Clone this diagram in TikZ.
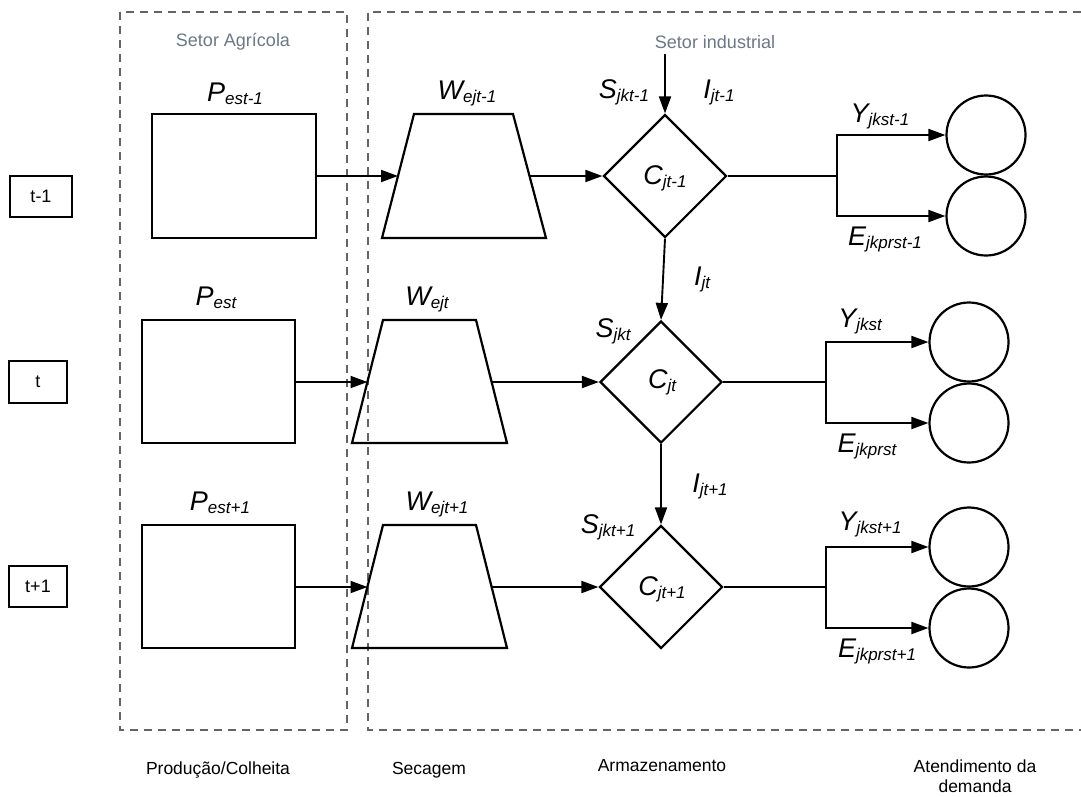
\documentclass[tikz,border=0pt]{standalone}
\usepackage{fontspec}
\setmainfont{Liberation Sans}
\usetikzlibrary{shapes.geometric,arrows.meta}

\definecolor{sectorgray}{RGB}{108,120,135}
\definecolor{dashgray}{RGB}{100,100,100}

% italic variable with subscript, e.g. \lab{P}{est-1}
\newcommand\lab[2]{{\fontsize{27}{27}\selectfont\itshape #1}\raisebox{-3.5pt}{\fontsize{17}{17}\selectfont\itshape #2}}

\tikzset{
  sector/.style={draw=dashgray, line width=1.5pt, dash pattern=on 8pt off 6pt},
  sectortitle/.style={text=sectorgray, font=\fontsize{18}{18}\selectfont},
  stagetitle/.style={font=\fontsize{17.5}{20}\selectfont, align=center},
  periodbox/.style={draw, line width=1.8pt, inner sep=0pt, font=\fontsize{18}{18}\selectfont},
  prodbox/.style={draw, line width=2.2pt, inner sep=0pt},
  dryer/.style={draw, line width=2.2pt, line join=miter},
  silo/.style={diamond, draw, line width=2.2pt, inner sep=0pt, minimum size=123pt},
  demand/.style={circle, draw, line width=2.2pt, inner sep=0pt, minimum size=79pt},
  varlabel/.style={anchor=base, inner sep=0pt},
  flow/.style={line width=1.9pt, -{Triangle[length=17pt,width=12pt]}},
  plainflow/.style={line width=1.9pt},
}

\begin{document}
\begin{tikzpicture}[x=1pt,y=-1pt]
\useasboundingbox[fill=white] (0,0) rectangle (1081,796);

% sectors
\draw[sector] (120,12) rectangle (347,730);
\draw[sector] (1081,12) -- (368,12) -- (368,730) -- (1081,730);
\node[sectortitle] (tagr) at (233,42) {Setor Agrícola};
\node[sectortitle] (tind) at (715,42) {Setor industrial};

% periods
\node[periodbox, minimum width=62pt, minimum height=41pt] (t1) at (41,196.5) {t-1};
\node[periodbox, minimum width=58pt, minimum height=42pt] (t2) at (38,382) {t};
\node[periodbox, minimum width=58pt, minimum height=41pt] (t3) at (38,586.5) {t+1};

% production / harvest
\node[prodbox, minimum width=164pt, minimum height=124pt] (p1) at (234,176) {};
\node[prodbox, minimum width=153pt, minimum height=123pt] (p2) at (218.5,381.5) {};
\node[prodbox, minimum width=153pt, minimum height=123pt] (p3) at (218.5,586.5) {};

% drying
\draw[dryer] (382,238) -- (414,114) -- (513,114) -- (546,238) -- cycle;
\draw[dryer] (352,443) -- (383,320) -- (476,320) -- (507,443) -- cycle;
\draw[dryer] (352,648) -- (383,525) -- (476,525) -- (507,648) -- cycle;
\coordinate (w1in) at (398,176);   \coordinate (w1out) at (530,176);
\coordinate (w2in) at (367.5,382); \coordinate (w2out) at (491.5,382);
\coordinate (w3in) at (367.5,587); \coordinate (w3out) at (491.5,587);

% storage
\node[silo] (c1) at (665,176) {};
\node[silo, minimum size=122pt] (c2) at (661,382) {};
\node[silo] (c3) at (661,587) {};
\coordinate (cin) at (665,54);

% demand
\node[demand] (y1) at (986,135) {};
\node[demand] (e1) at (986,216) {};
\node[demand] (y2) at (969,342) {};
\node[demand] (e2) at (969,423) {};
\node[demand] (y3) at (969,547) {};
\node[demand] (e3) at (969,628) {};
\coordinate (b1) at (837,176);
\coordinate (b2) at (826,382);
\coordinate (b3) at (826,587);

% flows
\draw[flow] (p1.east |- w1in) -- (w1in);
\draw[flow] (p2.east |- w2in) -- (w2in);
\draw[flow] (p3.east |- w3in) -- (w3in);
\draw[flow] (w1out) -- (c1.west);
\draw[flow] (w2out) -- (c2.west);
\draw[flow] (w3out) -- (c3.west);
\draw[flow] (cin) -- (c1.north);
\draw[flow] (c1.south) -- (c2.north);
\draw[flow] (c2.south) -- (c3.north);
\draw[plainflow] (c1.east) -- (b1);
\draw[plainflow] (c2.east) -- (b2);
\draw[plainflow] (c3.east) -- (b3);
\draw[flow] (b1) |- (y1.west);
\draw[flow] (b1) |- (e1.west);
\draw[flow] (b2) |- (y2.west);
\draw[flow] (b2) |- (e2.west);
\draw[flow] (b3) |- (y3.west);
\draw[flow] (b3) |- (e3.west);

% variable labels
\node[varlabel] (lp1) at (235,101) {\lab{P}{est-1}};
\node[varlabel] (lp2) at (216,305) {\lab{P}{est}};
\node[varlabel] (lp3) at (220,510) {\lab{P}{est+1}};
\node[varlabel] (lw1) at (467,99) {\lab{W}{ejt-1}};
\node[varlabel] (lw2) at (427,305) {\lab{W}{ejt}};
\node[varlabel] (lw3) at (437,510) {\lab{W}{ejt+1}};
\node[varlabel] (ls1) at (624,98) {\lab{S}{jkt-1}};
\node[varlabel] (li1) at (719,98) {\lab{I}{jt-1}};
\node[varlabel] (lc1) at (665,184) {\lab{C}{jt-1}};
\node[varlabel] (li2) at (702,285) {\lab{I}{jt}};
\node[varlabel] (ls2) at (613,337) {\lab{S}{jkt}};
\node[varlabel] (lc2) at (662,388) {\lab{C}{jt}};
\node[varlabel] (li3) at (710,492) {\lab{I}{jt+1}};
\node[varlabel] (ls3) at (608,533) {\lab{S}{jkt+1}};
\node[varlabel] (lc3) at (662,595) {\lab{C}{jt+1}};
\node[varlabel] (ly1) at (880,122) {\lab{Y}{jkst-1}};
\node[varlabel] (le1) at (885,245) {\lab{E}{jkprst-1}};
\node[varlabel] (ly2) at (860,327) {\lab{Y}{jkst}};
\node[varlabel] (le2) at (867,452) {\lab{E}{jkprst}};
\node[varlabel] (ly3) at (870,530) {\lab{Y}{jkst+1}};
\node[varlabel] (le3) at (877,657) {\lab{E}{jkprst+1}};

% stage names
\node[stagetitle] (sp) at (218,770) {Produção/Colheita};
\node[stagetitle] (ss) at (429,770) {Secagem};
\node[stagetitle] (sa) at (662,766) {Armazenamento};
\node[stagetitle] (sd) at (975,776) {Atendimento da\\demanda};
\end{tikzpicture}
\end{document}
